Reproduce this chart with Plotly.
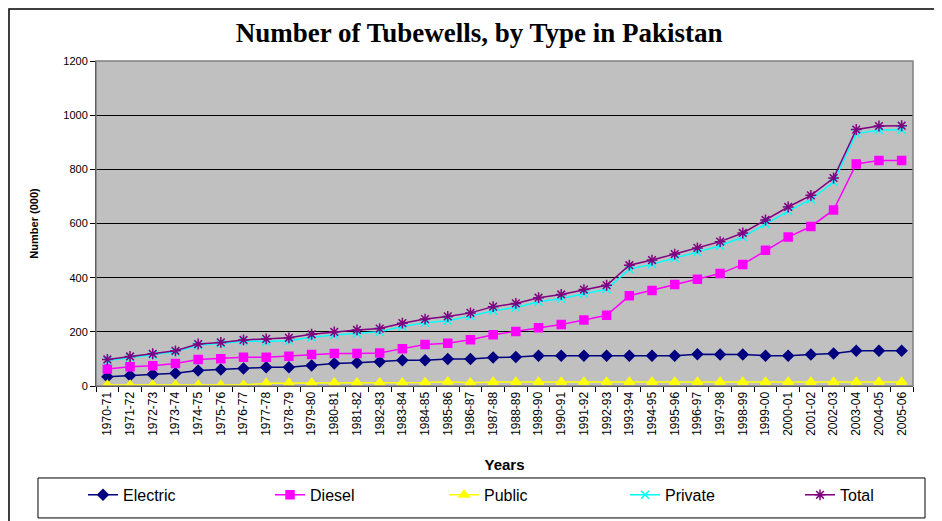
import plotly.graph_objects as go

years = ["1970-71", "1971-72", "1972-73", "1973-74", "1974-75", "1975-76", "1976-77",
         "1977-78", "1978-79", "1979-80", "1980-81", "1981-82", "1982-83", "1983-84",
         "1984-85", "1985-86", "1986-87", "1987-88", "1988-89", "1989-90", "1990-91",
         "1991-92", "1992-93", "1993-94", "1994-95", "1995-96", "1996-97", "1997-98",
         "1998-99", "1999-00", "2000-01", "2001-02", "2002-03", "2003-04", "2004-05",
         "2005-06"]

electric = [34, 39, 43, 47, 57, 61, 65, 69, 69,
            76, 83, 86, 90, 95, 95, 100, 100, 105,
            107, 112, 112, 112, 112, 112, 112, 112, 117,
            116, 116, 112, 112, 116, 120, 130, 130, 130]
diesel = [63, 71, 75, 83, 98, 101, 106, 106, 110,
          116, 120, 120, 122, 138, 153, 158, 171, 189,
          201, 215, 227, 244, 261, 333, 353, 375, 394,
          415, 449, 501, 550, 589, 650, 820, 833, 833]
public = [4, 4, 4, 4, 4, 4, 4, 10, 11,
          11, 12, 12, 12, 12, 13, 16, 12, 15,
          15, 15, 15, 15, 15, 15, 15, 15, 15,
          15, 15, 15, 15, 15, 15, 15, 15, 15]
private = [94, 105, 115, 126, 151, 157, 166, 164, 167,
           180, 188, 195, 200, 220, 234, 241, 258, 278,
           290, 311, 323, 341, 357, 431, 450, 472, 495,
           518, 550, 598, 646, 689, 753, 932, 945, 946]
total = [98, 109, 119, 130, 155, 161, 170, 174, 178,
         191, 200, 207, 212, 232, 247, 257, 270, 293,
         305, 326, 338, 356, 372, 446, 465, 487, 510,
         533, 565, 613, 661, 704, 768, 947, 960, 961]

series = [
    ("Electric", electric, "#000080", "diamond", 8),
    ("Diesel", diesel, "#FF00FF", "square", 8),
    ("Public", public, "#FFFF00", "triangle-up", 9),
    ("Private", private, "#00FFFF", "x-thin-open", 8),
    ("Total", total, "#800080", "asterisk-open", 9),
]
legend_x = [-0.0159, 0.213, 0.426, 0.6475, 0.8617]

fig = go.Figure()
for i, (name, vals, col, sym, sz) in enumerate(series):
    lg = "legend" if i == 0 else f"legend{i + 1}"
    fig.add_trace(go.Scatter(
        x=years, y=vals, name=name, mode="lines+markers", legend=lg,
        showlegend=True,
        line=dict(color=col, width=1.5),
        marker=dict(symbol=sym, size=sz, color=col, line=dict(color=col, width=1.5)),
    ))
    fig.update_layout({lg: dict(
        x=legend_x[i], xanchor="left", y=-0.335, yanchor="middle",
        bgcolor="rgba(0,0,0,0)", font=dict(size=16), itemwidth=30,
    )})

# outer chart frame, grey plot-area border, legend box
fig.add_shape(type="rect", xref="paper", yref="paper", x0=-0.1065, x1=1.0294,
              y0=-0.46, y1=1.160, line=dict(color="black", width=1.5), layer="below")
fig.add_shape(type="rect", xref="paper", yref="paper", x0=0, x1=1, y0=0, y1=1,
              line=dict(color="#808080", width=1.5))
fig.add_shape(type="rect", xref="paper", yref="paper", x0=-0.071, x1=1.0147,
              y0=-0.406, y1=-0.283, line=dict(color="black", width=1), layer="below")

fig.update_layout(
    width=942, height=521, showlegend=True,
    margin=dict(l=88, r=37, t=53, b=143, autoexpand=False),
    paper_bgcolor="white", plot_bgcolor="#C0C0C0",
    font=dict(family="Liberation Sans, Arial", color="black", size=11),
    title=dict(text="<b>Number of Tubewells, by Type in Pakistan</b>",
               font=dict(family="Liberation Serif, Times New Roman", size=27),
               x=0.469, xanchor="center", xref="paper", y=1 - 25 / 521, yanchor="middle"),
    xaxis=dict(
        type="category",
        title=dict(text="<b>Years</b>", font=dict(size=15), standoff=24),
        tickangle=-90, tickfont=dict(size=12), ticks="outside", ticklen=5,
        tickson="boundaries", tickcolor="black", showline=True, linecolor="black",
        linewidth=1, showgrid=False, range=[-0.5, 35.5],
    ),
    yaxis=dict(
        title=dict(text="<b>Number (000)</b>", font=dict(size=11), standoff=22),
        range=[0, 1200], dtick=200, ticks="outside", ticklen=5, tickcolor="black",
        showline=True, linecolor="black", linewidth=1,
        gridcolor="black", gridwidth=1, zeroline=False,
    ),
)

fig.write_html("out.html")
